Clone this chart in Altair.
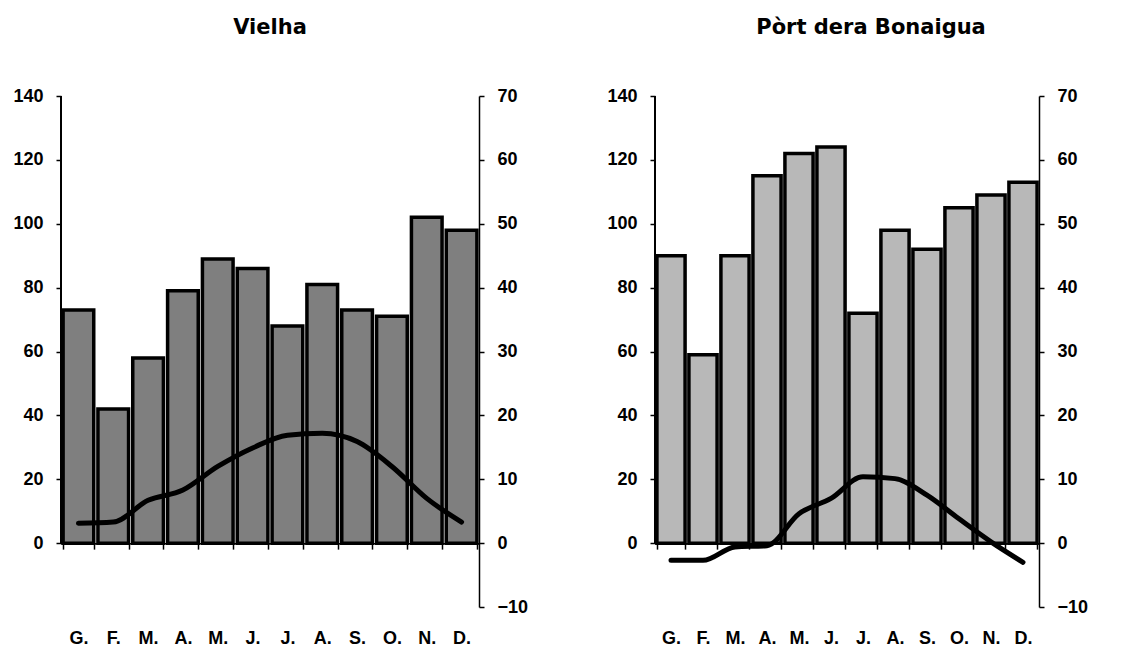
import altair as alt
import pandas as pd

months = ["G.", "F.", "M.", "A.", "M.", "J.", "J.", "A.", "S.", "O.", "N.", "D."]

vielha_prec = [73, 42, 58, 79, 89, 86, 68, 81, 73, 71, 102, 98]
vielha_temp = [3.1, 3.3, 6.7, 8.3, 12.0, 14.9, 16.9, 17.2, 15.9, 12.0, 7.0, 3.3]

bonaigua_prec = [90, 59, 90, 115, 122, 124, 72, 98, 92, 105, 109, 113]
bonaigua_temp = [-2.7, -2.7, -0.6, -0.4, 4.6, 7.0, 10.4, 10.1, 7.5, 3.8, 0.2, -3.0]

prec_ticks = [0, 20, 40, 60, 80, 100, 120, 140]
temp_ticks = [-10, 0, 10, 20, 30, 40, 50, 60, 70]

LABEL_FONT = "Liberation Sans"
TITLE_FONT = "DejaVu Sans"
H = 511
FS = 18

label_expr = "[" + ",".join("'%s'" % m for m in months) + "][datum.value]"


def panel(title, prec, temp, width, fill, title_dx):
    df = pd.DataFrame({"idx": list(range(12)), "prec": prec, "temp": temp})
    base = alt.Chart(df)
    x_enc = alt.X(
        "idx:O",
        sort=list(range(12)),
        scale=alt.Scale(paddingInner=0.12, paddingOuter=0.06),
        axis=alt.Axis(
            title=None,
            labelExpr=label_expr,
            labelAngle=0,
            labelFont=LABEL_FONT,
            labelFontSize=FS,
            labelFontWeight="bold",
            labelColor="black",
            labelPadding=80,
            tickBand="extent",
            tickSize=6,
            tickColor="black",
            tickWidth=1.5,
            domainColor="black",
            domainWidth=1.5,
            offset=-H * 20 / 160,
        ),
    )
    ys = alt.Scale(domain=[-20, 140], nice=False, zero=False)
    bars = base.mark_bar(stroke="black", strokeWidth=3.5, fill=fill).encode(
        x=x_enc,
        y=alt.Y(
            "prec:Q",
            scale=ys,
            axis=alt.Axis(
                title=None,
                values=prec_ticks,
                domain=False,
                grid=False,
                labelFont=LABEL_FONT,
                labelFontSize=FS,
                labelFontWeight="bold",
                labelColor="black",
                labelPadding=13,
                tickSize=5,
                tickColor="black",
                tickWidth=1.5,
            ),
        ),
        y2=alt.datum(0),
    )
    rule = base.mark_rule(color="black", strokeWidth=1.5).encode(
        x=alt.value(0),
        y=alt.Y(datum=0, scale=ys),
        y2=alt.datum(140),
    )
    line = base.mark_line(
        color="black", strokeWidth=5, interpolate="monotone", strokeCap="round"
    ).encode(
        x=alt.X("idx:O", sort=list(range(12))),
        y=alt.Y(
            "temp:Q",
            scale=alt.Scale(domain=[-10, 70], nice=False, zero=False),
            axis=alt.Axis(
                title=None,
                values=temp_ticks,
                grid=False,
                orient="right",
                labelFont=LABEL_FONT,
                labelFontSize=FS,
                labelFontWeight="bold",
                labelColor="black",
                labelPadding=13,
                tickSize=5,
                tickColor="black",
                tickWidth=1.5,
                domainColor="black",
                domainWidth=1.5,
            ),
        ),
    )
    return (
        alt.layer(alt.layer(bars, rule), line)
        .resolve_scale(y="independent")
        .properties(
            width=width,
            height=H,
            title=alt.TitleParams(
                title,
                font=TITLE_FONT,
                fontSize=21,
                fontWeight="bold",
                color="black",
                anchor="middle",
                offset=49,
                dx=title_dx,
            ),
        )
    )


left = panel("Vielha", vielha_prec, vielha_temp, 418, "#7f7f7f", 0)
right = panel("Pòrt dera Bonaigua", bonaigua_prec, bonaigua_temp, 384, "#b8b8b8", 24)

chart = (
    alt.hconcat(left, right, spacing=78)
    .properties(padding={"left": 4, "top": 9, "right": 5, "bottom": 0}, background="white")
    .configure_view(stroke=None)
)

chart.save("out.html", embed_options={"renderer": "svg", "actions": False})
